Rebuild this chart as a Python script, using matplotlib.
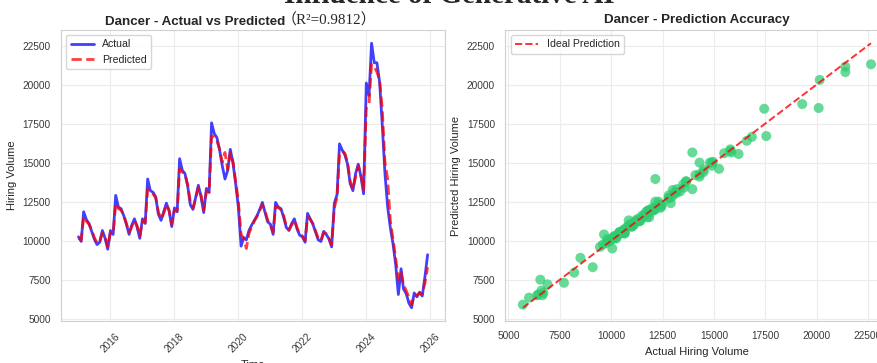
import pandas as pd
import matplotlib
matplotlib.use("Agg")
import matplotlib.pyplot as plt
import matplotlib.dates as mdates
import seaborn as sns

# Monthly hiring volume for the occupation, Jan 2015 - Dec 2025
occupation = "Dancer"
r2_text = "0.9812"
suptitle_text = "Influence of Generative AI"
months = pd.date_range("2015-01-01", periods=132, freq="MS")

actual = [
    10250, 9950, 11850, 11350, 11100, 10600, 10100, 9750, 9900, 10650, 10150, 9450,
    10650, 10400, 12900, 12150, 12050, 11600, 11050, 10400, 11000, 11400, 10850, 10150,
    11400, 11100, 13950, 13200, 13100, 12800, 11700, 11300, 11850, 12400, 11900, 10900,
    12100, 11850, 15250, 14500, 14300, 13500, 12300, 12000, 12800, 13550, 12800, 11800,
    13350, 13100, 17550, 16850, 16600, 15800, 14800, 13950, 14500, 15850, 14950, 13650,
    12150, 9650, 10200, 10050, 10650, 11000, 11300, 11600, 12000, 12450, 11800, 11200,
    11050, 10400, 12450, 12150, 12050, 11500, 10850, 10650, 11100, 11400, 10750, 10350,
    10250, 9900, 11750, 11400, 11050, 10550, 10050, 9950, 10600, 10400, 10100, 9600,
    12400, 12950, 16200, 15800, 15500, 14900, 13650, 13200, 14300, 14900, 14100, 13000,
    20100, 19300, 22650, 21400, 21400, 20150, 17450, 14300, 12150, 10850, 9800, 8500,
    6550, 8200, 6900, 6600, 6000, 5700, 6650, 6400, 6700, 6450, 7700, 9100,
]

predicted = [
    10150, 10050, 11500, 11250, 11050, 10700, 10200, 9850, 9950, 10500, 10250, 9600,
    10500, 10450, 12400, 12050, 11950, 11650, 11100, 10550, 10900, 11300, 10950, 10300,
    11250, 11150, 13300, 13100, 13000, 12750, 11850, 11400, 11750, 12300, 11950, 11050,
    11950, 11900, 14600, 14400, 14250, 13600, 12500, 12100, 12700, 13400, 12900, 11950,
    13150, 13100, 16700, 16650, 16400, 15850, 15000, 15650, 14550, 15650, 15050, 13800,
    12500, 10400, 10150, 9500, 10450, 10900, 11250, 11550, 11950, 12300, 11900, 11300,
    11000, 10550, 12200, 12100, 12000, 11600, 10950, 10700, 11000, 11300, 10850, 10400,
    10300, 10000, 11500, 11350, 11100, 10600, 10150, 10000, 10500, 10450, 10150, 9750,
    12100, 12800, 15550, 15750, 15600, 15000, 13800, 13300, 14100, 14800, 14200, 13250,
    18500, 18750, 21300, 21150, 20800, 20300, 18450, 15000, 13950, 11300, 10100, 8900,
    7500, 7950, 7200, 6800, 6350, 5900, 6500, 6500, 6650, 6550, 7300, 8300,
]

sns.set_style("whitegrid")
plt.rcParams["font.family"] = ["Liberation Sans", "DejaVu Sans"]
plt.rcParams["axes.edgecolor"] = "#d0d0d0"
plt.rcParams["grid.color"] = "#ececec"
plt.rcParams["text.color"] = "#262626"
plt.rcParams["xtick.color"] = "#3a3a3a"
plt.rcParams["ytick.color"] = "#3a3a3a"

fig = plt.figure(figsize=(8.78, 3.63), dpi=100)
ax1 = fig.add_axes([0.0695, 0.1157, 0.4374, 0.8017])
ax2 = fig.add_axes([0.5757, 0.1157, 0.4362, 0.8017])

fig.text(0.512, 0.992, suptitle_text, ha="center", va="baseline",
         fontsize=21, fontweight="bold", family=["Liberation Serif"])

# Left panel: time series
ax1.plot(months, actual, color="blue", alpha=0.75, lw=2.0, label="Actual")
ax1.plot(months, predicted, color="red", ls="--", alpha=0.75, lw=2.0, label="Predicted")
ax1.xaxis.set_major_locator(mdates.YearLocator(2))
ax1.xaxis.set_major_formatter(mdates.DateFormatter("%Y"))
ax1.set_yticks(range(5000, 22501, 2500))
for lab in ax1.get_xticklabels():
    lab.set_rotation(45)
ax1.tick_params(axis="both", labelsize=7.3, pad=4)
ax1.set_xlabel("Time", fontsize=8)
ax1.set_ylabel("Hiring Volume", fontsize=8)
ax1.legend(loc="upper left", fontsize=7.6, frameon=True, handlelength=2.2)

# Title: sans-serif name part followed by the serif R² part
title_y = 1 - 25 / 363
fig.text(105 / 878, title_y, f"{occupation} - Actual vs Predicted",
         ha="left", va="baseline", fontsize=9.6, fontweight="bold")
fig.text(282 / 878, title_y, f"（R²={r2_text}）",
         ha="left", va="baseline", fontsize=10.8,
         family=["Liberation Serif", "Noto Sans CJK SC"])

# Right panel: actual vs predicted
ax2.scatter(actual, predicted, color="#2ecc71", alpha=0.72, s=52, edgecolors="none")
lo, hi = min(actual), max(actual)
ax2.plot([lo, hi], [lo, hi], "r--", lw=1.4, alpha=0.8, label="Ideal Prediction")
ax2.set_xticks(range(5000, 22501, 2500))
ax2.set_yticks(range(5000, 22501, 2500))
ax2.tick_params(axis="both", labelsize=7.3, pad=4)
ax2.set_xlabel("Actual Hiring Volume", fontsize=8)
ax2.set_ylabel("Predicted Hiring Volume", fontsize=8)
ax2.set_title(f"{occupation} - Prediction Accuracy", fontsize=9.6, fontweight="bold", pad=5)
ax2.legend(loc="upper left", fontsize=7.6, frameon=True, handlelength=2.2)

fig.savefig("out.png", dpi=100)
